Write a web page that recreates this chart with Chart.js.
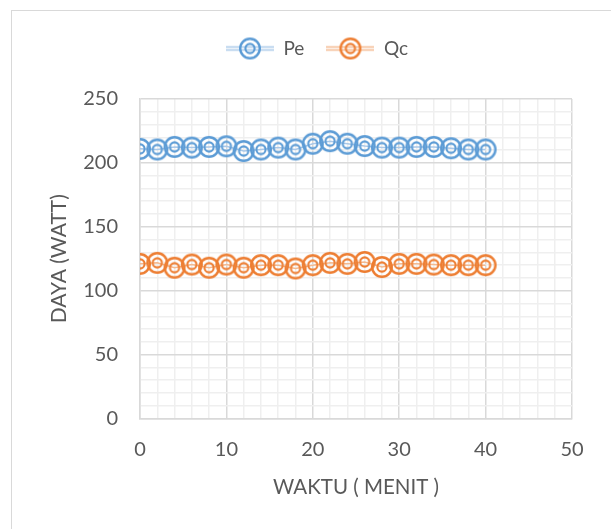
<!DOCTYPE html>
<html>
<head>
<meta charset="utf-8">
<script src="https://cdn.jsdelivr.net/npm/chart.js@4.4.1/dist/chart.umd.min.js"></script>
<style>
  html, body { margin: 0; padding: 0; background: #fff; }
  #wrap { position: relative; width: 611px; height: 529px; }
  #frame { position: absolute; left: 11px; top: 10px; width: 620px; height: 540px; border: 1px solid #d9d9d9; box-sizing: border-box; }
  canvas { position: absolute; left: 0; top: 0; }
</style>
</head>
<body>
<div id="wrap">
  <div id="frame"></div>
  <canvas id="chart" width="611" height="529"></canvas>
</div>
<script>
// data
const waktu = [0, 2, 4, 6, 8, 10, 12, 14, 16, 18, 20, 22, 24, 26, 28, 30, 32, 34, 36, 38, 40];
const pe = [211, 210.5, 212.5, 212, 212.5, 213, 209.3, 210.5, 212, 210.5, 215, 217, 215, 213.2, 212, 212, 212.5, 212.5, 211.5, 210.5, 210.5];
const qc = [121, 121.8, 118, 120.5, 118, 120.5, 118, 120, 120, 117.4, 120, 121.8, 121, 122.5, 118.5, 121, 121, 120.5, 120, 120, 120];
const seriesNames = ["Pe", "Qc"];
const xTicks = [0, 10, 20, 30, 40, 50];
const yTicks = [0, 50, 100, 150, 200, 250];

const BLUE = "#5b9bd5";
const ORANGE = "#ed7d31";
const BLUE_LINE = "#a9c8e8";
const ORANGE_LINE = "#f4b98f";
const TEXT = "#595959";
const FONT = "Lato, 'Open Sans', sans-serif";

// double circle marker
function makeMarker(color) {
  const c = document.createElement("canvas");
  c.width = 26; c.height = 26;
  const g = c.getContext("2d");
  g.strokeStyle = color;
  g.lineWidth = 2.4;
  g.beginPath(); g.arc(13, 13, 9.8, 0, Math.PI * 2); g.stroke();
  g.lineWidth = 2.1;
  g.beginPath(); g.arc(13, 13, 4.6, 0, Math.PI * 2); g.stroke();
  return c;
}

// legend icon: double line with the marker on it
function makeLegendIcon(color, lineColor) {
  const c = document.createElement("canvas");
  c.width = 48; c.height = 26;
  const g = c.getContext("2d");
  g.strokeStyle = lineColor;
  g.lineWidth = 1.5;
  g.beginPath();
  g.moveTo(0, 11.5); g.lineTo(48, 11.5);
  g.moveTo(0, 14.5); g.lineTo(48, 14.5);
  g.stroke();
  g.drawImage(makeMarker(color), 11, 0);
  return c;
}

const markers = [makeMarker(BLUE), makeMarker(ORANGE)];
const icons = [makeLegendIcon(BLUE, BLUE_LINE), makeLegendIcon(ORANGE, ORANGE_LINE)];

function toPoints(xs, ys) {
  return xs.map((x, i) => ({ x: x, y: ys[i] }));
}

// extra room under the legend, and nudge it to the frame's centre
const legendTweak = {
  id: "legendTweak",
  beforeUpdate(chart) {
    const lg = chart.legend;
    if (lg && !lg._tweaked) {
      const fit = lg.fit;
      lg.fit = function () { fit.call(this); this.height += 31; };
      lg._tweaked = true;
    }
  },
  afterLayout(chart) {
    chart.legend.left += 11;
    chart.legend.right += 11;
  },
};

const ctx = document.getElementById("chart").getContext("2d");
new Chart(ctx, {
  type: "line",
  plugins: [legendTweak],
  data: {
    datasets: [
      {
        label: seriesNames[0],
        data: toPoints(waktu, pe),
        borderColor: BLUE_LINE,
        borderWidth: 1.5,
        pointStyle: markers[0],
        pointRadius: 11,
      },
      {
        label: seriesNames[1],
        data: toPoints(waktu, qc),
        borderColor: ORANGE_LINE,
        borderWidth: 1.5,
        pointStyle: markers[1],
        pointRadius: 11,
      },
    ],
  },
  options: {
    responsive: false,
    animation: false,
    layout: { padding: { left: 40, right: 39, top: 17, bottom: 20 } },
    plugins: {
      tooltip: { enabled: false },
      legend: {
        position: "top",
        labels: {
          usePointStyle: true,
          pointStyleWidth: 48,
          boxHeight: 19,
          padding: 22,
          color: TEXT,
          font: { family: FONT, size: 19 },
          generateLabels: function (chart) {
            return chart.data.datasets.map((ds, i) => ({
              text: ds.label,
              pointStyle: icons[i],
              fillStyle: "transparent",
              strokeStyle: "transparent",
              lineWidth: 0,
              fontColor: TEXT,
              datasetIndex: i,
            }));
          },
        },
      },
    },
    scales: {
      x: {
        type: "linear",
        min: 0,
        max: 50,
        afterFit: function (scale) { scale.height = 90.5; },
        ticks: {
          stepSize: 2,
          autoSkip: false,
          maxRotation: 0,
          padding: 19,
          color: TEXT,
          font: { family: FONT, size: 20 },
          callback: v => (xTicks.includes(v) ? v : ""),
        },
        grid: {
          drawTicks: false,
          lineWidth: 1.5,
          color: c => (xTicks.includes(c.tick.value) ? "#d9d9d9" : "#efefef"),
        },
        border: { color: "#d9d9d9", width: 1.5 },
        title: {
          display: true,
          text: "WAKTU ( MENIT )",
          color: TEXT,
          font: { family: FONT, size: 20.5 },
          padding: { top: 0, bottom: 9 },
        },
      },
      y: {
        min: 0,
        max: 250,
        afterFit: function (scale) { scale.width = 100; },
        ticks: {
          stepSize: 10,
          autoSkip: false,
          padding: 22,
          color: TEXT,
          font: { family: FONT, size: 20 },
          callback: v => (yTicks.includes(v) ? v : ""),
        },
        grid: {
          drawTicks: false,
          lineWidth: 1.5,
          color: c => (yTicks.includes(c.tick.value) ? "#d9d9d9" : "#efefef"),
        },
        border: { color: "#d9d9d9", width: 1.5 },
        title: {
          display: true,
          text: "DAYA (WATT)",
          color: TEXT,
          font: { family: FONT, size: 21 },
          padding: { top: 7, bottom: 0 },
        },
      },
    },
  },
});
</script>
</body>
</html>
